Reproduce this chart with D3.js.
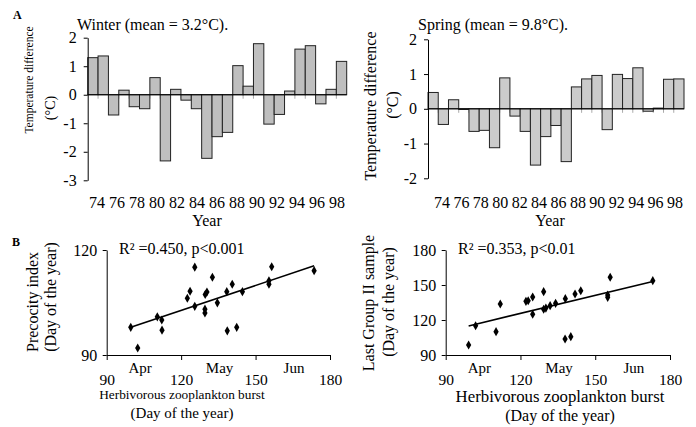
<!DOCTYPE html>
<html>
<head>
<meta charset="utf-8">
<script src="https://cdn.jsdelivr.net/npm/d3@7"></script>
<style>
body { margin: 0; background: #fff; }
svg { display: block; font-family: "Liberation Serif", "Times New Roman", serif; }
</style>
</head>
<body>
<svg id="chart" width="696" height="427"></svg>
<script>
// years 1974-1998 (two-digit labels as in the figure)
var years = [74,75,76,77,78,79,80,81,82,83,84,85,86,87,88,89,90,91,92,93,94,95,96,97,98];
var yearTicks = [74,76,78,80,82,84,86,88,90,92,94,96,98];

// temperature difference from the seasonal mean (°C)
var winterDiff = [1.3,1.36,-0.71,0.16,-0.42,-0.49,0.6,-2.32,0.19,-0.19,-0.49,-2.23,-1.47,-1.32,1.02,0.3,1.79,-1.03,-0.69,0.13,1.6,1.72,-0.32,0.19,1.17];
var springDiff = [0.47,-0.45,0.26,-0.02,-0.65,-0.62,-1.12,0.89,-0.21,-0.65,-1.62,-0.8,-0.48,-1.52,0.63,0.86,0.96,-0.6,0.99,0.87,1.18,-0.07,0.02,0.85,0.86];
var winterTicks = [2,1,0,-1,-2,-3];
var springTicks = [2,1,0,-1,-2];

// [herbivorous zooplankton burst, precocity index] (day of the year)
var precocity = [[99.7,97.9],[102.5,92.0],[110.4,100.9],[112.2,100.0],[112.3,97.1],[122.5,106.2],[123.6,108.2],
  [125.5,115.1],[125.5,103.9],[129.6,103.1],[129.6,102.0],[129.7,107.3],[130.4,108.0],[132.6,112.2],[134.6,104.9],
  [138.4,108.1],[140.6,110.2],[138.6,96.9],[142.4,97.9],[144.7,108.1],[155.4,111.2],[155.4,110.2],[156.5,115.2],[173.6,114.1]];
// [herbivorous zooplankton burst, last Group II sample] (day of the year)
var lastGroup = [[99.2,98.6],[102.0,115.1],[110.2,110.0],[111.9,133.7],[122.2,136.0],[123.1,136.5],[124.9,139.7],
  [124.9,124.9],[129.3,144.3],[129.3,129.2],[130.2,130.2],[131.9,132.3],[134.1,134.3],[138.0,138.3],[141.9,142.3],
  [144.2,145.1],[137.9,103.7],[140.2,105.7],[155.0,141.4],[155.0,139.4],[156.0,156.6],[173.1,153.7]];
var precocityFit = { slope: 0.2378, intercept: 74.19 };
var lastGroupFit = { slope: 0.515, intercept: 63.85 };

var xDayTicks = [90,120,150,180];
var months = ["Apr","May","Jun"];
var monthDays = [103.5,135.5,165.5];

var svg = d3.select("#chart");

function styleAxis(g, size) {
  g.attr("font-family", null).attr("font-size", size);
  g.selectAll("path, line").attr("stroke", "#000");
  g.selectAll("text").attr("fill", "#000");
}

function vLabel(x, y, txt, size) {
  svg.append("text")
    .attr("transform", "translate(" + x + "," + y + ") rotate(-90)")
    .attr("text-anchor", "middle").attr("dominant-baseline", "central")
    .attr("font-size", size).text(txt);
}

function barChart(cfg) {
  var g = svg.append("g");
  var x = d3.scaleBand().domain(years).range([cfg.x0, cfg.x1]);
  var y = d3.scaleLinear().domain(cfg.yDomain).range([cfg.yBottom, cfg.yTop]);
  var lab = d3.scaleLinear().domain([74, 98]).range(cfg.labelRange);

  // small year ticks under the zero line
  g.selectAll("line.yt").data(years.slice(1)).enter().append("line")
    .attr("x1", function (d) { return x(d); }).attr("x2", function (d) { return x(d); })
    .attr("y1", y(0)).attr("y2", y(0) + 4)
    .attr("stroke", "#aaa").attr("stroke-width", 1);

  g.selectAll("rect.bar").data(cfg.values).enter().append("rect")
    .attr("x", function (d, i) { return x(years[i]); })
    .attr("width", x.bandwidth())
    .attr("y", function (d) { return Math.min(y(d), y(0)); })
    .attr("height", function (d) { return Math.abs(y(d) - y(0)); })
    .attr("fill", cfg.fill).attr("stroke", "#222").attr("stroke-width", 1);

  g.append("line")
    .attr("x1", cfg.x0).attr("x2", cfg.x1).attr("y1", y(0)).attr("y2", y(0))
    .attr("stroke", "#000");

  var ax = g.append("g").attr("transform", "translate(" + cfg.x0 + ",0)")
    .call(d3.axisLeft(y).tickValues(cfg.ticks).tickSize(4).tickSizeOuter(0).tickPadding(7)
      .tickFormat(function (d) { return String(d); }));
  styleAxis(ax, 16);

  g.selectAll("text.yr").data(yearTicks).enter().append("text")
    .attr("x", function (d) { return lab(d); }).attr("y", 208)
    .attr("text-anchor", "middle").attr("font-size", 16)
    .text(function (d) { return d; });

  g.append("text").attr("x", cfg.yearX).attr("y", 226).attr("text-anchor", "middle")
    .attr("font-size", 16).text("Year");
  g.append("text").attr("x", cfg.titleX).attr("y", 30).attr("font-size", 16).text(cfg.title);
}

barChart({ values: winterDiff, x0: 87.7, x1: 346.7, yDomain: [-3, 2], yBottom: 180.3, yTop: 37.7,
  ticks: winterTicks, labelRange: [97, 337], fill: "#bfbfbf", yearX: 207, titleX: 77,
  title: "Winter (mean = 3.2°C)." });
barChart({ values: springDiff, x0: 428, x1: 684, yDomain: [-2, 2], yBottom: 178.3, yTop: 39.3,
  ticks: springTicks, labelRange: [442, 675], fill: "#cbcbcb", yearX: 550, titleX: 418,
  title: "Spring (mean = 9.8°C)." });

vLabel(29, 80, "Temperature difference", 11.5);
vLabel(50.5, 108, "(°C)", 14);
vLabel(370, 106, "Temperature difference", 16);
vLabel(392, 105, "(°C)", 16);

function scatter(cfg) {
  var g = svg.append("g");
  var x = d3.scaleLinear().domain([90, 180]).range([cfg.x0, cfg.x1]);
  var y = d3.scaleLinear().domain(cfg.yDomain).range([355, 250]);

  var ay = g.append("g").attr("transform", "translate(" + cfg.x0 + ",0)")
    .call(d3.axisLeft(y).tickValues(cfg.yTicks).tickSize(4).tickSizeOuter(0).tickPadding(5.5));
  styleAxis(ay, 16);
  var axb = g.append("g").attr("transform", "translate(0,355)")
    .call(d3.axisBottom(x).tickValues(xDayTicks).tickSize(5).tickSizeOuter(0).tickPadding(13.5));
  styleAxis(axb, 15.5);

  g.selectAll("text.mo").data(months).enter().append("text")
    .attr("x", function (d, i) { return x(monthDays[i]); }).attr("y", 373)
    .attr("text-anchor", "middle").attr("font-size", 15).text(function (d) { return d; });

  var ext = d3.extent(cfg.data, function (d) { return d[0]; });
  g.append("line")
    .attr("x1", x(ext[0])).attr("y1", y(cfg.fit.intercept + cfg.fit.slope * ext[0]))
    .attr("x2", x(ext[1])).attr("y2", y(cfg.fit.intercept + cfg.fit.slope * ext[1]))
    .attr("stroke", "#000").attr("stroke-width", 1.6);

  g.selectAll("path.pt").data(cfg.data).enter().append("path")
    .attr("d", d3.symbol().type(d3.symbolDiamond).size(24))
    .attr("transform", function (d) { return "translate(" + x(d[0]) + "," + y(d[1]) + ")"; })
    .attr("fill", "#000");

  g.append("text").attr("x", cfg.statX).attr("y", 254).attr("font-size", 16)
    .text(cfg.stat);
  g.append("text").attr("x", cfg.titleX).attr("y", cfg.t1y).attr("text-anchor", "middle")
    .attr("font-size", cfg.t1size).text("Herbivorous zooplankton burst");
  g.append("text").attr("x", cfg.titleX).attr("y", cfg.t2y).attr("text-anchor", "middle")
    .attr("font-size", cfg.t2size).text("(Day of the year)");
}

scatter({ data: precocity, fit: precocityFit, x0: 106.7, x1: 330, yDomain: [90, 120], yTicks: [90, 120],
  stat: "R\u00b2 =0.450, p<0.001", statX: 119, titleX: 182, t1y: 399, t1size: 13.3, t2y: 418, t2size: 15 });
scatter({ data: lastGroup, fit: lastGroupFit, x0: 445.7, x1: 670, yDomain: [90, 180], yTicks: [90, 120, 150, 180],
  stat: "R\u00b2 =0.353, p<0.01", statX: 458, titleX: 560, t1y: 402, t1size: 16.8, t2y: 421, t2size: 16 });

vLabel(32.5, 302, "Precocity index", 16);
vLabel(50.5, 297, "(Day of the year)", 16);
vLabel(368, 303, "Last Group II sample", 16);
vLabel(388, 302, "(Day of the year)", 16);

svg.append("text").attr("x", 13).attr("y", 19).attr("font-size", 12).attr("font-weight", "bold").text("A");
svg.append("text").attr("x", 12).attr("y", 246).attr("font-size", 12).attr("font-weight", "bold").text("B");
</script>
</body>
</html>
